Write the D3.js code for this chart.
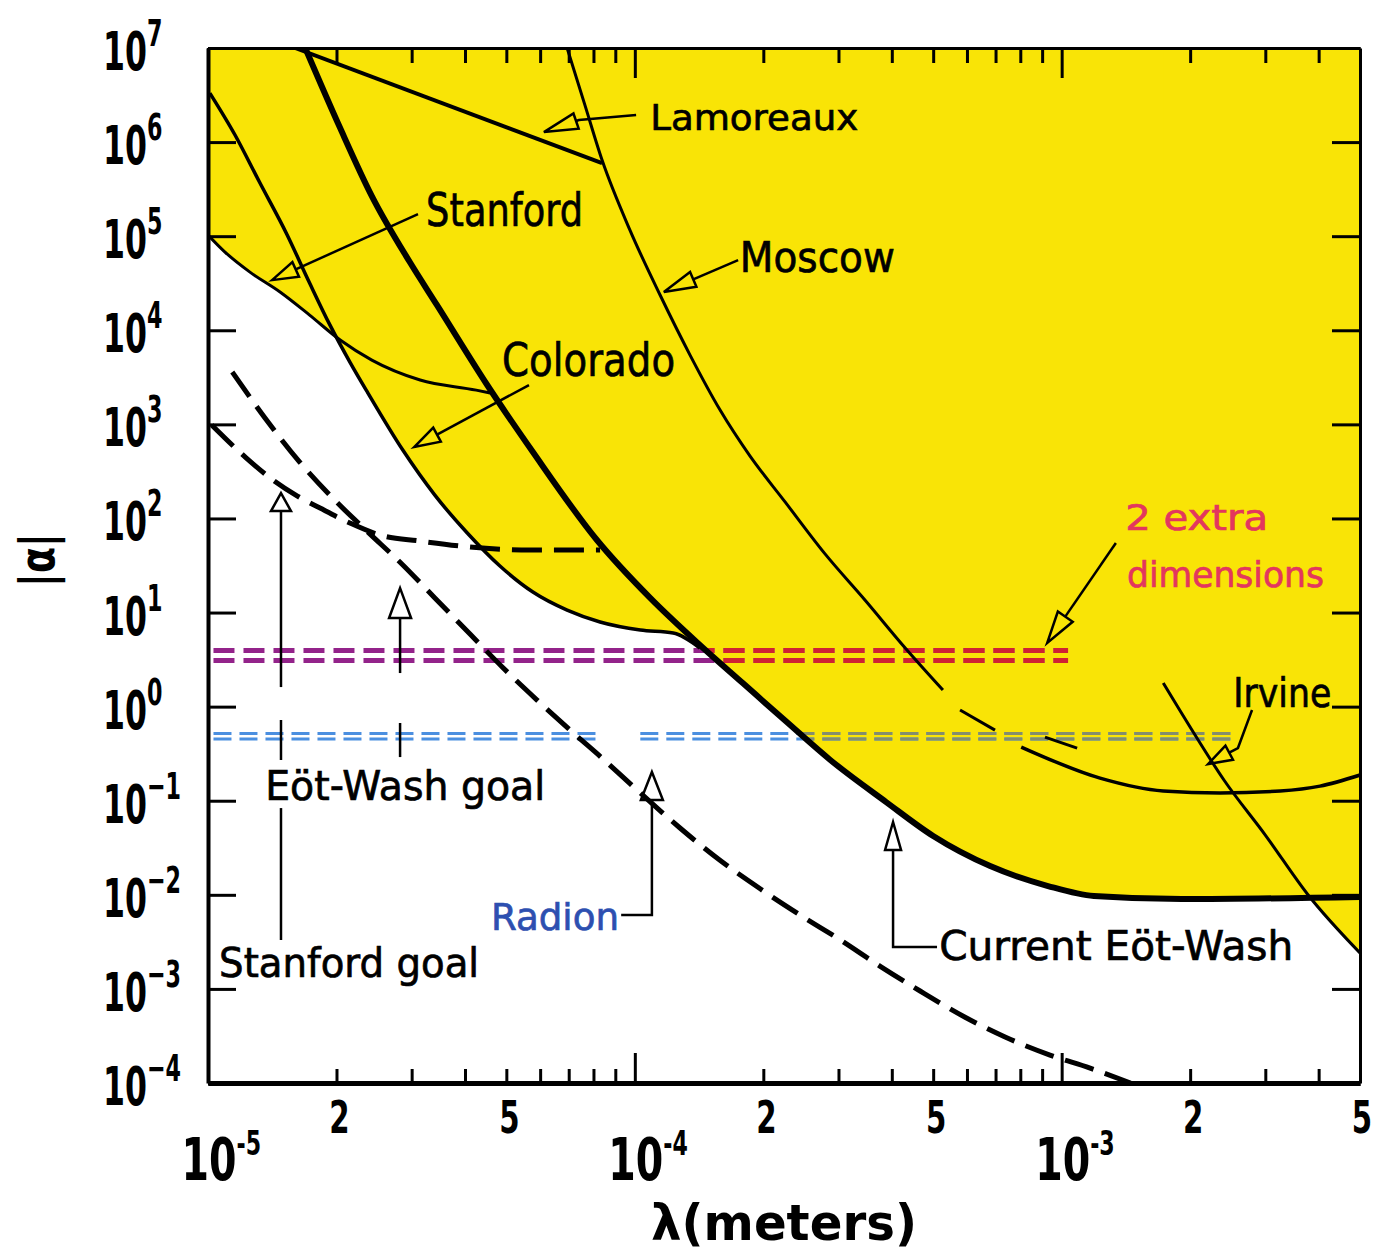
<!DOCTYPE html>
<html>
<head>
<meta charset="utf-8">
<script src="https://d3js.org/d3.v7.min.js"></script>
<style>
body { margin: 0; background: #fff; }
text { font-family: "DejaVu Sans", sans-serif; }
</style>
</head>
<body>
<svg id="chart" width="1380" height="1257"></svg>
<script>
// each bound is a list of [lambda (m), |alpha|]
var lamoreaux = [[1.60e-5, 1e7], [8.38e-5, 5.98e5]];
var moscow = [[6.94e-5, 1e7], [7.64e-5, 2.47e6], [8.38e-5, 6.44e5], [9.74e-5, 1.16e5], [1.146e-4, 2.37e4],
  [1.347e-4, 5.45e3], [1.584e-4, 1.42e3], [1.862e-4, 460], [2.249e-4, 150], [2.79e-4, 42],
  [3.46e-4, 13.6], [4.30e-4, 4.20], [5.27e-4, 1.50]];
var moscowTail = [[5.78e-4, 0.92], [6.98e-4, 0.563]];
var moscowTail2 = [[9.14e-4, 0.475], [1.087e-3, 0.363]];
var stanford = [[1.0e-5, 1.03e5], [1.096e-5, 6.78e4], [1.254e-5, 4.15e4], [1.475e-5, 2.55e4], [1.73e-5, 1.45e4],
  [2.04e-5, 7.87e3], [2.42e-5, 4.82e3], [3.14e-5, 2.96e3], [4.25e-5, 2.31e3], [4.58e-5, 2.15e3]];
var colorado = [[1.01e-5, 3.32e6], [1.157e-5, 1.19e6], [1.32e-5, 3.76e5], [1.53e-5, 1.05e5], [1.73e-5, 3.18e4],
  [1.93e-5, 1.14e4], [2.15e-5, 4.59e3], [2.37e-5, 2.15e3], [2.86e-5, 533], [3.40e-5, 177], [4.05e-5, 70],
  [4.83e-5, 31.2], [5.77e-5, 16.5], [6.94e-5, 10.6], [8.29e-5, 7.93], [1.03e-4, 6.52], [1.23e-4, 6.05], [1.42e-4, 4.20]];
var eotwash = [[1.69e-5, 1e7], [2.04e-5, 1.41e6], [2.42e-5, 2.67e5], [2.97e-5, 5.31e4], [3.44e-5, 1.85e4],
  [4.51e-5, 2.62e3], [5.77e-5, 508], [8.15e-5, 59], [1.086e-4, 14.3], [1.42e-4, 4.52], [1.79e-4, 1.78],
  [2.27e-4, 0.685], [2.87e-4, 0.271], [3.88e-4, 0.0968], [5.00e-4, 0.0422], [6.80e-4, 0.0202],
  [9.29e-4, 0.0124], [1.19e-3, 0.0097], [1.91e-3, 0.0090], [5.0e-3, 0.0095]];
var irvine = [[1.73e-3, 1.78], [2.04e-3, 0.524], [2.40e-3, 0.166], [3.0e-3, 0.0432], [3.78e-3, 0.00996], [5.0e-3, 0.00241]];
var irvineLow = [[8.04e-4, 0.372], [1.23e-3, 0.174], [1.73e-3, 0.127], [2.35e-3, 0.121], [3.25e-3, 0.127],
  [4.03e-3, 0.143], [5.0e-3, 0.1875]];
var stanfordGoal = [[1.02e-5, 984], [1.23e-5, 438], [1.42e-5, 256], [1.62e-5, 173], [1.83e-5, 129], [2.15e-5, 89.4],
  [2.53e-5, 66.6], [3.14e-5, 57.5], [4.11e-5, 49.7], [5.68e-5, 46.1], [8.29e-5, 46.1]];
var eotwashGoal = [[1.14e-5, 3.6e3], [1.36e-5, 1.17e3], [1.64e-5, 397], [1.98e-5, 157], [2.37e-5, 71.6],
  [2.83e-5, 33.6], [3.40e-5, 14.3], [4.11e-5, 5.91], [4.89e-5, 2.64], [5.90e-5, 1.175], [7.09e-5, 0.551],
  [8.38e-5, 0.284], [1.03e-4, 0.121], [1.276e-4, 0.0513], [1.58e-4, 0.0234], [1.97e-4, 0.01153],
  [2.44e-4, 0.0061], [3.03e-4, 0.00331], [3.75e-4, 0.00175], [4.66e-4, 9.5e-4], [5.94e-4, 5.0e-4],
  [7.37e-4, 3.08e-4], [9.39e-4, 1.98e-4], [1.166e-3, 1.44e-4], [1.45e-3, 1e-4]];

// horizontal predictions
var extraDimRange = [1.03e-5, 1.035e-3];
var extraDimAlpha = [3.95, 3.09];
var radionRanges = [[1.03e-5, 8.29e-5], [1.03e-4, 2.52e-3]];
var radionAlpha = [0.518, 0.453];

// ticks
var yExponents = [-4, -3, -2, -1, 0, 1, 2, 3, 4, 5, 6, 7];
var xMajor = [1e-5, 1e-4, 1e-3];
var xMajorExp = ["-5", "-4", "-3"];
var xMinor = [2e-5, 3e-5, 4e-5, 5e-5, 6e-5, 7e-5, 8e-5, 9e-5, 2e-4, 3e-4, 4e-4, 5e-4, 6e-4, 7e-4, 8e-4, 9e-4, 2e-3, 3e-3, 4e-3];
var xMinorLabeled = [2e-5, 5e-5, 2e-4, 5e-4, 2e-3, 5e-3];
var xMinorText = ["2", "5", "2", "5", "2", "5"];

// annotations, positions as [log10 lambda, log10 alpha]
var labels = [
  {t: "Lamoreaux", p: [-3.964, 6.128], w: 208, fs: 36},
  {t: "Stanford", p: [-4.489, 5.107], w: 157, fs: 46},
  {t: "Moscow", p: [-3.754, 4.618], w: 155, fs: 42},
  {t: "Colorado", p: [-4.311, 3.513], w: 173, fs: 46},
  {t: "2 extra", p: [-2.851, 1.877], w: 143, fs: 36, c: "#e3365e"},
  {t: "dimensions", p: [-2.847, 1.271], w: 197, fs: 36, c: "#e3365e"},
  {t: "Irvine", p: [-2.598, -0.004], w: 98, fs: 40},
  {t: "Eöt-Wash goal", p: [-4.866, -0.993], w: 280, fs: 40},
  {t: "Stanford goal", p: [-4.974, -2.874], w: 260, fs: 40},
  {t: "Radion", p: [-4.337, -2.374], w: 128, fs: 38, c: "#2d4fb0"},
  {t: "Current Eöt-Wash", p: [-3.287, -2.693], w: 354, fs: 40}
];
var arrows = [
  {pts: [[-3.997, 6.287], [-4.131, 6.234], [-4.213, 6.106]], len: 34, hw: 8},
  {pts: [[-4.508, 5.235], [-4.850, 4.533]], len: 26, hw: 8},
  {pts: [[-3.758, 4.746], [-3.932, 4.406]], len: 32, hw: 8},
  {pts: [[-4.248, 3.418], [-4.517, 2.759]], len: 26, hw: 8},
  {pts: [[-2.873, 1.739], [-3.034, 0.676]], len: 32, hw: 9},
  {pts: [[-2.554, -0.036], [-2.587, -0.440], [-2.657, -0.610]], len: 24, hw: 8},
  {pts: [[-4.829, 0.208], [-4.829, 2.270]], len: 18, hw: 10},
  {pts: [[-4.550, 0.357], [-4.550, 1.260]], len: 30, hw: 11},
  {pts: [[-4.032, -2.215], [-3.96, -2.215], [-3.96, -0.695]], len: 28, hw: 11},
  {pts: [[-3.292, -2.555], [-3.395, -2.555], [-3.395, -1.226]], len: 28, hw: 8}
];
var leaders = [
  [[-4.829, -2.480], [-4.829, -1.078]],
  [[-4.829, -0.567], [-4.829, -0.142]],
  [[-4.550, -0.536], [-4.550, -0.174]]
];

var svg = d3.select("#chart");
var x = d3.scaleLog().domain([1e-5, 5e-3]).range([208, 1360]);
var y = d3.scaleLog().domain([1e-4, 1e7]).range([1083, 48]);
function at(p) { return [x(Math.pow(10, p[0])), y(Math.pow(10, p[1]))]; }

svg.append("rect").attr("width", 1380).attr("height", 1257).attr("fill", "#fff");

var defs = svg.append("defs");
defs.append("clipPath").attr("id", "plot").append("rect")
  .attr("x", 208).attr("y", 48).attr("width", 1152).attr("height", 1035);

var bounds = [stanford, colorado, eotwash, irvine];
var area = d3.area().x(function(d) { return x(d[0]); })
  .y0(y(1e7)).y1(function(d) { return y(d[1]); }).curve(d3.curveMonotoneX);
var line = d3.line().x(function(d) { return x(d[0]); })
  .y(function(d) { return y(d[1]); }).curve(d3.curveMonotoneX);

var yc = defs.append("clipPath").attr("id", "yellow");
bounds.forEach(function(b) { yc.append("path").attr("d", area(b)); });

var plot = svg.append("g").attr("clip-path", "url(#plot)");
bounds.forEach(function(b) {
  plot.append("path").attr("d", area(b)).attr("fill", "#f9e406");
});

// horizontal dashed predictions: one colour on white, another where they cross the yellow
function hline(g, a, r, color, w, dash) {
  g.append("line").attr("x1", x(r[0])).attr("x2", x(r[1]))
    .attr("y1", y(a)).attr("y2", y(a))
    .attr("stroke", color).attr("stroke-width", w).attr("stroke-dasharray", dash);
}
extraDimAlpha.forEach(function(a) { hline(plot, a, extraDimRange, "#93238a", 5, "21,9"); });
radionAlpha.forEach(function(a) {
  radionRanges.forEach(function(r) { hline(plot, a, r, "#4b8fe0", 3, "18,8"); });
});
var onYellow = plot.append("g").attr("clip-path", "url(#yellow)");
extraDimAlpha.forEach(function(a) { hline(onYellow, a, extraDimRange, "#cf2233", 5, "21,9"); });
radionAlpha.forEach(function(a) {
  radionRanges.forEach(function(r) { hline(onYellow, a, r, "#848d6c", 3, "18,8"); });
});

// measured bounds
function curve(d, w, dash) {
  var p = plot.append("path").attr("d", line(d)).attr("fill", "none")
    .attr("stroke", "#000").attr("stroke-width", w);
  if (dash) p.attr("stroke-dasharray", dash);
}
curve(lamoreaux, 4);
curve(moscow, 3);
curve(moscowTail, 3);
curve(moscowTail2, 3);
curve(stanford, 3);
curve(colorado, 3.5);
curve(eotwash, 6);
curve(irvine, 3);
curve(irvineLow, 3.5);
curve(stanfordGoal, 5, "30,12");
curve(eotwashGoal, 5, "30,12");

// axes
function styleAxis(g, w) {
  g.select(".domain").attr("stroke-width", w).attr("stroke", "#000");
  g.selectAll(".tick line").attr("stroke-width", 3).attr("stroke", "#000");
  g.selectAll(".tick text").remove();
}
var yTicks = yExponents.map(function(e) { return Math.pow(10, e); });
svg.append("g").attr("transform", "translate(208,0)")
  .call(d3.axisLeft(y).tickValues(yTicks).tickSize(-28).tickSizeOuter(0).tickFormat(""))
  .call(styleAxis, 4);
svg.append("g").attr("transform", "translate(1360,0)")
  .call(d3.axisRight(y).tickValues(yTicks).tickSize(-28).tickSizeOuter(0).tickFormat(""))
  .call(styleAxis, 3);
svg.append("g").attr("transform", "translate(0,1083)")
  .call(d3.axisBottom(x).tickValues(xMinor).tickSize(-14).tickSizeOuter(0).tickFormat(""))
  .call(styleAxis, 5);
svg.append("g").attr("transform", "translate(0,1083)")
  .call(d3.axisBottom(x).tickValues(xMajor).tickSize(-30).tickSizeOuter(0).tickFormat(""))
  .call(styleAxis, 5);
svg.append("g").attr("transform", "translate(0,48)")
  .call(d3.axisTop(x).tickValues(xMinor).tickSize(-15).tickSizeOuter(0).tickFormat(""))
  .call(styleAxis, 3);
svg.append("g").attr("transform", "translate(0,48)")
  .call(d3.axisTop(x).tickValues(xMajor).tickSize(-30).tickSizeOuter(0).tickFormat(""))
  .call(styleAxis, 3);

// tick labels: "10" with a raised exponent, horizontally condensed
var yl = svg.append("g").attr("font-weight", "bold").attr("fill", "#000");
yExponents.forEach(function(e) {
  var ty = y(Math.pow(10, e));
  var t = yl.append("text").attr("transform", "translate(103," + (ty + 22) + ") scale(0.585,1)")
    .attr("font-size", 54);
  t.append("tspan").text("10");
  t.append("tspan").attr("font-size", 38).attr("dy", -24).text(String(e).replace("-", "\u2212"));
});
var xl = svg.append("g").attr("font-weight", "bold").attr("fill", "#000");
xMajor.forEach(function(v, i) {
  var t = xl.append("text").attr("transform", "translate(" + (x(v) - 26.5) + ",1180) scale(0.67,1)")
    .attr("font-size", 59);
  t.append("tspan").text("10");
  t.append("tspan").attr("font-size", 33).attr("dy", -25).text(xMajorExp[i]);
});
xMinorLabeled.forEach(function(v, i) {
  xl.append("text").attr("transform", "translate(" + Math.min(x(v) + 3, 1362) + ",1133) scale(0.65,1)")
    .attr("text-anchor", "middle").attr("font-size", 45).text(xMinorText[i]);
});

// axis titles
svg.append("text").attr("x", 784).attr("y", 1240).attr("text-anchor", "middle")
  .attr("font-size", 50).attr("font-weight", "bold")
  .attr("textLength", 266).attr("lengthAdjust", "spacingAndGlyphs").text("λ(meters)");
svg.append("text").attr("transform", "translate(37,560) rotate(-90)")
  .attr("text-anchor", "middle").attr("dominant-baseline", "central")
  .attr("font-size", 48).attr("font-weight", "bold")
  .attr("textLength", 54).attr("lengthAdjust", "spacingAndGlyphs").text("|α|");

// annotations
var ann = svg.append("g");
leaders.forEach(function(l) {
  ann.append("path").attr("d", d3.line()(l.map(at))).attr("fill", "none")
    .attr("stroke", "#000").attr("stroke-width", 2.5);
});
arrows.forEach(function(a) {
  var pts = a.pts.map(at);
  var tip = pts[pts.length - 1], prev = pts[pts.length - 2];
  var dx = tip[0] - prev[0], dy = tip[1] - prev[1], n = Math.hypot(dx, dy);
  var ux = dx / n, uy = dy / n;
  var base = [tip[0] - ux * a.len, tip[1] - uy * a.len];
  var shaft = pts.slice(0, -1).concat([base]);
  ann.append("path").attr("d", d3.line()(shaft)).attr("fill", "none")
    .attr("stroke", "#000").attr("stroke-width", 2.5);
  var head = [tip, [base[0] - uy * a.hw, base[1] + ux * a.hw], [base[0] + uy * a.hw, base[1] - ux * a.hw]];
  ann.append("path").attr("d", d3.line()(head) + "Z").attr("fill", "none")
    .attr("stroke", "#000").attr("stroke-width", 2.5);
});
labels.forEach(function(l) {
  var p = at(l.p);
  var c = l.c || "#000";
  ann.append("text").attr("x", p[0]).attr("y", p[1])
    .attr("font-size", l.fs).attr("fill", c).attr("stroke", c).attr("stroke-width", 0.7)
    .attr("textLength", l.w).attr("lengthAdjust", "spacingAndGlyphs").text(l.t);
});
</script>
</body>
</html>
